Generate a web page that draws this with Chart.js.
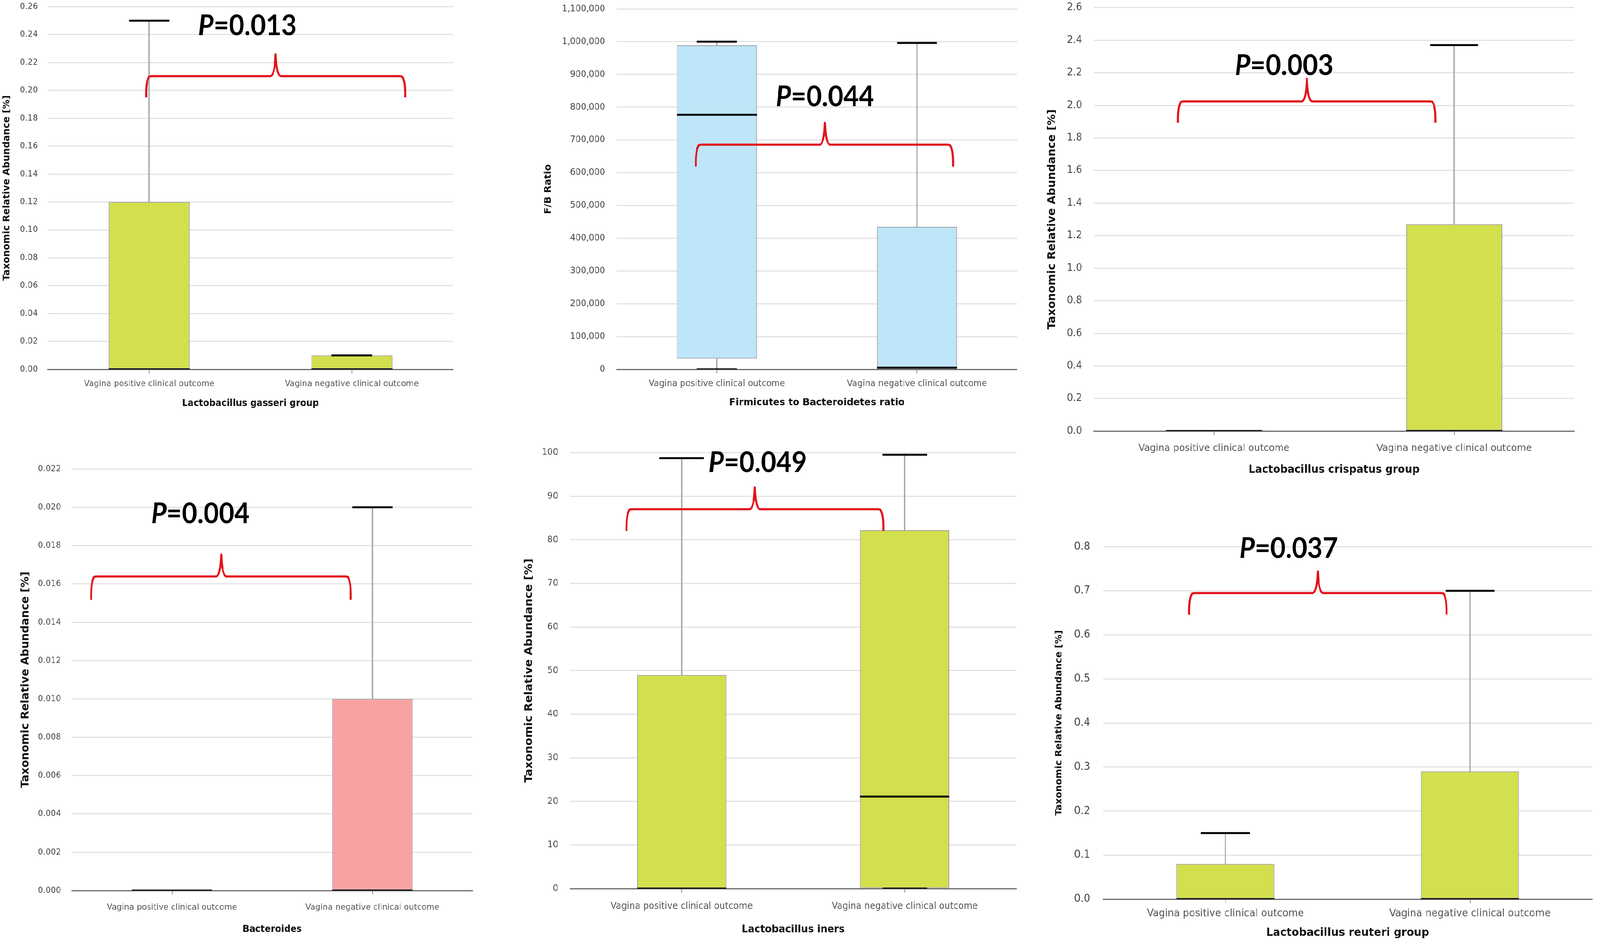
<!DOCTYPE html>
<html><head><meta charset="utf-8">
<script src="https://cdn.jsdelivr.net/npm/chart.js@4.4.1/dist/chart.umd.min.js"></script>
<style>
html,body{margin:0;padding:0;background:#fff;overflow:hidden}
#stage{position:absolute;left:0;top:0;width:4350px;height:2423px;transform-origin:0 0}
#stage canvas{position:absolute}
</style></head><body>
<div id="stage"></div>
<script>
// ---------- DATA ----------
const categories = ['Vagina positive clinical outcome', 'Vagina negative clinical outcome'];

// Lactobacillus gasseri group
const gasseriQ1 = [0, 0];
const gasseriQ3 = [0.12, 0.01];
const gasseriMedian = [0, 0];
const gasseriMax = [0.25, 0.01];
const gasseriMin = [null, null];
const gasseriTicks = [0, 0.02, 0.04, 0.06, 0.08, 0.10, 0.12, 0.14, 0.16, 0.18, 0.20, 0.22, 0.24, 0.26];

// Firmicutes to Bacteroidetes ratio
const fbQ1 = [33000, 0];
const fbQ3 = [989000, 435000];
const fbMedian = [777000, 5000];
const fbMax = [1000000, 996000];
const fbMin = [0, null];
const fbTicks = [0, 100000, 200000, 300000, 400000, 500000, 600000, 700000, 800000, 900000, 1000000, 1100000];

// Lactobacillus crispatus group
const crispatusQ1 = [0, 0];
const crispatusQ3 = [0, 1.27];
const crispatusMedian = [0, 0];
const crispatusMax = [null, 2.37];
const crispatusMin = [null, null];
const crispatusTicks = [0, 0.2, 0.4, 0.6, 0.8, 1.0, 1.2, 1.4, 1.6, 1.8, 2.0, 2.2, 2.4, 2.6];

// Bacteroides
const bacteroidesQ1 = [0, 0];
const bacteroidesQ3 = [0, 0.010];
const bacteroidesMedian = [0, 0];
const bacteroidesMax = [null, 0.020];
const bacteroidesMin = [null, null];
const bacteroidesTicks = [0, 0.002, 0.004, 0.006, 0.008, 0.010, 0.012, 0.014, 0.016, 0.018, 0.020, 0.022];

// Lactobacillus iners
const inersQ1 = [0, 0];
const inersQ3 = [49, 82.2];
const inersMedian = [0, 21.1];
const inersMax = [98.7, 99.5];
const inersMin = [null, 0];
const inersTicks = [0, 10, 20, 30, 40, 50, 60, 70, 80, 90, 100];

// Lactobacillus reuteri group
const reuteriQ1 = [0, 0];
const reuteriQ3 = [0.08, 0.29];
const reuteriMedian = [0, 0];
const reuteriMax = [0.15, 0.70];
const reuteriMin = [null, null];
const reuteriTicks = [0, 0.1, 0.2, 0.3, 0.4, 0.5, 0.6, 0.7, 0.8];

const pValues = ['0.013', '0.044', '0.003', '0.004', '0.049', '0.037'];

// ---------- PANELS (layout / style) ----------
const panels = [
  { q1: gasseriQ1, q3: gasseriQ3, med: gasseriMedian, max: gasseriMax, min: gasseriMin, ticks: gasseriTicks,
    fmt: v => v.toFixed(2), color: '#d3df4c', xTitle: 'Lactobacillus gasseri group', yTitle: 'Taxonomic Relative Abundance [%]',
    p: pValues[0], pPos: [0.485, 0.246], brace: [-0.015, 1.263, 0.624, 0.195, 0.2102, 0.2259],
    plot: [130, 17, 1232, 946], tickRight: 103, yTitleX: 19, catY: 983, xTitleY: 1034, fonts: [22, 22, 24, 24] },
  { q1: fbQ1, q3: fbQ3, med: fbMedian, max: fbMax, min: fbMin, ticks: fbTicks,
    fmt: v => v.toLocaleString('en-US'), color: '#bee6f8', xTitle: 'Firmicutes to Bacteroidetes ratio', yTitle: 'F/B Ratio',
    p: pValues[1], pPos: [0.54, 831000], brace: [-0.105, 1.18, 0.54, 619000, 685600, 752000],
    plot: [1677, 17, 2765, 946], tickRight: 1645, yTitleX: 1490, catY: 983, xTitleY: 1031, fonts: [23, 23, 25.5, 25] },
  { q1: crispatusQ1, q3: crispatusQ3, med: crispatusMedian, max: crispatusMax, min: crispatusMin, ticks: crispatusTicks,
    fmt: v => v.toFixed(1), color: '#d3df4c', xTitle: 'Lactobacillus crispatus group', yTitle: 'Taxonomic Relative Abundance [%]',
    p: pValues[2], pPos: [0.292, 2.243], brace: [-0.15, 0.922, 0.387, 1.893, 2.024, 2.164],
    plot: [2974, 12, 4280, 1104], tickRight: 2942, yTitleX: 2861, catY: 1148, xTitleY: 1204, fonts: [26, 25.5, 28, 28.5] },
  { q1: bacteroidesQ1, q3: bacteroidesQ3, med: bacteroidesMedian, max: bacteroidesMax, min: bacteroidesMin, ticks: bacteroidesTicks,
    fmt: v => v.toFixed(3), color: '#f9a2a2', xTitle: 'Bacteroides', yTitle: 'Taxonomic Relative Abundance [%]',
    p: pValues[3], pPos: [0.142, 0.01964], brace: [-0.403, 0.892, 0.246, 0.01517, 0.01639, 0.01753],
    plot: [195, 1199, 1285, 2281], tickRight: 166, yTitleX: 70, catY: 2324, xTitleY: 2381, fonts: [22, 22, 24, 28] },
  { q1: inersQ1, q3: inersQ3, med: inersMedian, max: inersMax, min: inersMin, ticks: inersTicks,
    fmt: v => String(v), color: '#d3df4c', xTitle: 'Lactobacillus iners', yTitle: 'Taxonomic Relative Abundance [%]',
    p: pValues[4], pPos: [0.341, 97.6], brace: [-0.247, 0.904, 0.328, 82.0, 87.0, 92.0],
    plot: [1550, 1153, 2763, 2276], tickRight: 1518, yTitleX: 1438, catY: 2322, xTitleY: 2381, fonts: [23.5, 24, 26.5, 29] },
  { q1: reuteriQ1, q3: reuteriQ3, med: reuteriMedian, max: reuteriMax, min: reuteriMin, ticks: reuteriTicks,
    fmt: v => v.toFixed(1), color: '#d3df4c', xTitle: 'Lactobacillus reuteri group', yTitle: 'Taxonomic Relative Abundance [%]',
    p: pValues[5], pPos: [0.259, 0.795], brace: [-0.148, 0.904, 0.378, 0.646, 0.695, 0.744],
    plot: [2999, 1389, 4329, 2303], tickRight: 2964, yTitleX: 2880, catY: 2340, xTitleY: 2389, fonts: [27.5, 26.5, 29, 24] }
];

// fit the 4350x2423 design to the actual viewport
const stage = document.getElementById('stage');
stage.style.transform = 'scale(' + (window.innerWidth / 4350) + ',' + (window.innerHeight / 2423) + ')';

// annotation plugin: brace + P value, positioned through the chart scales
const annot = {
  id: 'annot',
  afterDatasetsDraw(chart, args, opts) {
    const { ctx, scales: { x, y } } = chart;
    const c0 = x.getPixelForValue(0), c1 = x.getPixelForValue(1);
    const X = i => c0 + (c1 - c0) * i;
    const b = opts.brace;
    const x0 = X(b[0]), x1 = X(b[1]), xc = X(b[2]);
    const yt = y.getPixelForValue(b[3]), yh = y.getPixelForValue(b[4]), yp = y.getPixelForValue(b[5]);
    const r = 14;
    ctx.save();
    ctx.strokeStyle = '#e3121b';
    ctx.lineWidth = 5.5;
    ctx.lineJoin = 'round';
    ctx.beginPath();
    ctx.moveTo(x0, yt);
    ctx.quadraticCurveTo(x0 - 1, yh + r * 0.9, x0 + r * 0.6, yh + 1);
    ctx.lineTo(x0 + r, yh);
    ctx.lineTo(xc - r, yh);
    ctx.quadraticCurveTo(xc - 2, yh - 2, xc, yp);
    ctx.quadraticCurveTo(xc + 2, yh - 2, xc + r, yh);
    ctx.lineTo(x1 - r, yh);
    ctx.lineTo(x1 - r * 0.6, yh + 1);
    ctx.quadraticCurveTo(x1 + 1, yh + r * 0.9, x1, yt);
    ctx.stroke();
    const fs = 72;
    const fItal = 'italic bold ' + fs + 'px Lato';
    const fBold = 'bold ' + fs + 'px Lato';
    const rest = '=' + opts.p;
    ctx.font = fItal; const wP = ctx.measureText('P').width;
    ctx.font = fBold; const wR = ctx.measureText(rest).width;
    const tx = X(opts.pPos[0]) - (wP + wR) / 2, ty = y.getPixelForValue(opts.pPos[1]);
    ctx.fillStyle = '#000';
    ctx.textBaseline = 'middle';
    ctx.textAlign = 'left';
    ctx.font = fItal; ctx.fillText('P', tx, ty);
    ctx.font = fBold; ctx.fillText(rest, tx + wP, ty);
    ctx.restore();
  }
};

function makePanel(s) {
  const [pl, pt, pr, pb] = s.plot;
  const cl = Math.max(0, s.yTitleX - 30);
  const ct = pt - 40;
  const cr = pr + 20;
  const cb = s.xTitleY + 30;
  const W = cr - cl, H = cb - ct;
  const cv = document.createElement('canvas');
  cv.width = W; cv.height = H;
  cv.style.left = cl + 'px'; cv.style.top = ct + 'px';
  cv.style.width = W + 'px'; cv.style.height = H + 'px';
  stage.appendChild(cv);
  const [fTick, fCat, fXT, fYT] = s.fonts;
  const yW = pl - cl, xH = cb - pb, tl = 10;
  const capR = c => c.chart.scales.x.width / 20;
  const medR = c => c.chart.scales.x.width / 10;
  new Chart(cv, {
    type: 'bar',
    data: {
      labels: categories,
      datasets: [
        { type: 'line', data: s.max, showLine: false, pointStyle: 'line', pointRotation: 0,
          pointRadius: capR, pointBorderColor: '#000', pointBorderWidth: 5, order: 0 },
        { type: 'line', data: s.min, showLine: false, pointStyle: 'line', pointRotation: 0,
          pointRadius: capR, pointBorderColor: '#000', pointBorderWidth: 5, order: 0 },
        { type: 'line', data: s.med, showLine: false, pointStyle: 'line', pointRotation: 0,
          pointRadius: medR, pointBorderColor: '#000', pointBorderWidth: 5, order: 1 },
        { type: 'bar', data: s.q1.map((v, i) => [v, s.q3[i]]), backgroundColor: s.color,
          borderColor: '#9c9ca8', borderWidth: 2, borderSkipped: false, grouped: false,
          barPercentage: 0.4, categoryPercentage: 1, order: 2 },
        { type: 'bar', data: s.q3.map((v, i) => s.max[i] == null ? null : [v, s.max[i]]),
          backgroundColor: '#a8a8a8', barThickness: 3, grouped: false, order: 3 },
        { type: 'bar', data: s.q1.map((v, i) => s.min[i] == null ? null : [s.min[i], v]),
          backgroundColor: '#a8a8a8', barThickness: 3, grouped: false, order: 3 }
      ]
    },
    options: {
      responsive: false, animation: false, devicePixelRatio: 1,
      layout: { padding: { top: pt - ct, right: cr - pr, left: 0, bottom: 0 } },
      plugins: { legend: { display: false }, tooltip: { enabled: false },
        annot: { brace: s.brace, p: s.p, pPos: s.pPos } },
      scales: {
        x: {
          offset: true,
          grid: { offset: false, drawOnChartArea: false, drawTicks: true, tickLength: tl, color: '#8a8a8a', lineWidth: 2 },
          border: { display: true, color: '#6a6a6a', width: 3 },
          ticks: { font: { family: 'DejaVu Sans', size: fCat }, color: '#555', maxRotation: 0, autoSkip: false,
            padding: s.catY - pb - tl - fCat * 0.6 },
          title: { display: true, text: s.xTitle, color: '#111',
            font: { family: 'DejaVu Sans', size: fXT, weight: 'bold' },
            padding: { top: 0, bottom: cb - s.xTitleY - fXT * 0.6 } },
          afterFit: sc => { sc.height = xH; }
        },
        y: {
          min: s.ticks[0], max: s.ticks[s.ticks.length - 1],
          border: { display: false },
          grid: { drawTicks: false, color: '#dedede', lineWidth: 2.5 },
          ticks: { font: { family: 'DejaVu Sans', size: fTick }, color: '#444', padding: pl - s.tickRight,
            callback: v => s.fmt(v) },
          afterBuildTicks: sc => { sc.ticks = s.ticks.map(v => ({ value: v })); },
          title: { display: true, text: s.yTitle, color: '#111',
            font: { family: 'DejaVu Sans', size: fYT, weight: 'bold' },
            padding: { top: s.yTitleX - cl - fYT * 0.6, bottom: 0 } },
          afterFit: sc => { sc.width = yW; }
        }
      }
    },
    plugins: [annot]
  });
}

panels.forEach(makePanel);
</script>
</body></html>
